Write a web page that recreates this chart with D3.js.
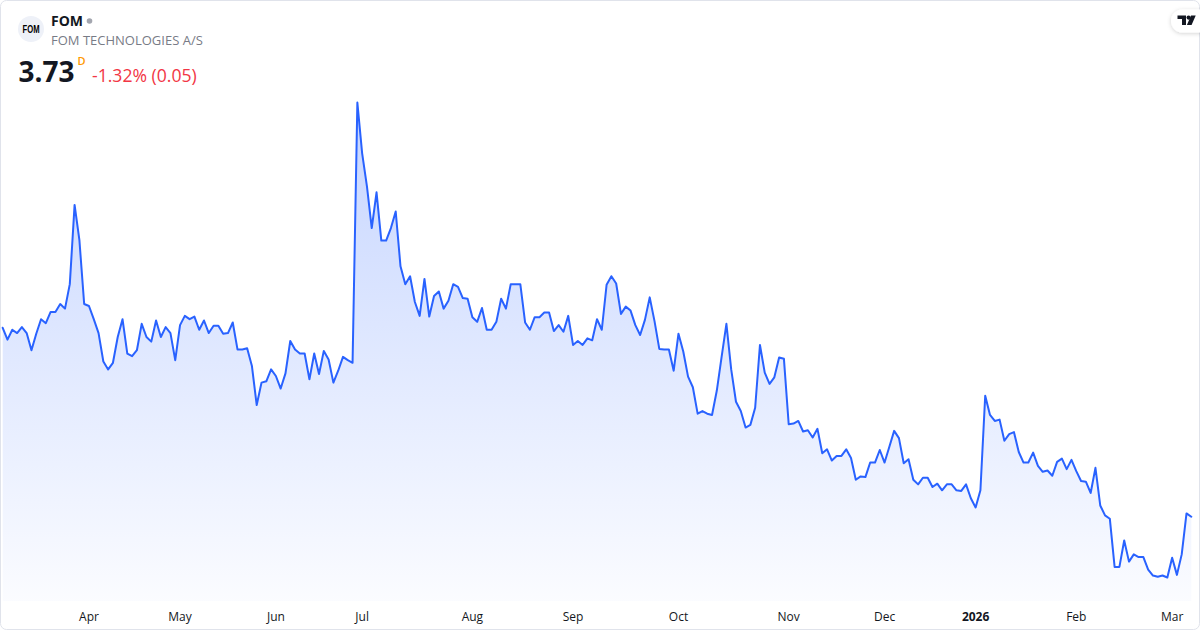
<!DOCTYPE html>
<html>
<head>
<meta charset="utf-8">
<script src="https://cdn.jsdelivr.net/npm/d3@7"></script>
<style>
  html, body { margin: 0; padding: 0; background: #ffffff; }
  svg { display: block; }
  text { font-family: "Open Sans", "Noto Sans", sans-serif; }
</style>
</head>
<body>
<div id="chart"></div>
<script>
// ---- Data (daily closes, DKK) ----
const symbol = "FOM";
const companyName = "FOM TECHNOLOGIES A/S";
const lastPrice = "3.73";
const intervalMark = "D";
const changeText = "-1.32% (0.05)";

const closes = [
  6.59, 6.41, 6.56, 6.51, 6.60, 6.51, 6.25, 6.50, 6.72, 6.66,
  6.83, 6.83, 6.95, 6.88, 7.25, 8.45, 7.92, 6.95, 6.92, 6.72,
  6.51, 6.08, 5.96, 6.06, 6.45, 6.72, 6.20, 6.16, 6.25, 6.65,
  6.45, 6.38, 6.70, 6.45, 6.60, 6.51, 6.10, 6.63, 6.77, 6.72,
  6.76, 6.56, 6.70, 6.51, 6.62, 6.62, 6.50, 6.51, 6.67, 6.26,
  6.26, 6.28, 6.01, 5.42, 5.76, 5.78, 5.96, 5.86, 5.67, 5.90,
  6.39, 6.26, 6.20, 6.20, 5.81, 6.20, 5.89, 6.24, 6.11, 5.76,
  5.94, 6.15, 6.10, 6.06, 10.00, 9.23, 8.73, 8.10, 8.64, 7.91,
  7.91, 8.10, 8.35, 7.52, 7.25, 7.37, 6.98, 6.77, 7.33, 6.76,
  7.07, 7.14, 6.88, 7.00, 7.25, 7.21, 7.04, 7.03, 6.75, 6.68,
  6.89, 6.56, 6.56, 6.68, 7.03, 6.88, 7.25, 7.25, 7.25, 6.67,
  6.56, 6.75, 6.75, 6.82, 6.82, 6.54, 6.63, 6.53, 6.77, 6.33,
  6.39, 6.33, 6.43, 6.40, 6.72, 6.56, 7.24, 7.37, 7.26, 6.80,
  6.91, 6.85, 6.63, 6.48, 6.71, 7.05, 6.69, 6.27, 6.26, 6.26,
  5.94, 6.50, 6.23, 5.85, 5.69, 5.29, 5.33, 5.29, 5.27, 5.64,
  6.15, 6.65, 5.96, 5.47, 5.33, 5.08, 5.12, 5.38, 6.33, 5.91,
  5.74, 5.84, 6.14, 6.12, 5.13, 5.14, 5.18, 5.02, 5.04, 4.93,
  5.06, 4.69, 4.75, 4.58, 4.65, 4.65, 4.75, 4.62, 4.29, 4.34,
  4.33, 4.55, 4.55, 4.74, 4.55, 4.79, 5.03, 4.92, 4.54, 4.60,
  4.29, 4.22, 4.32, 4.32, 4.18, 4.23, 4.13, 4.22, 4.22, 4.13,
  4.12, 4.22, 4.01, 3.87, 4.13, 5.56, 5.27, 5.18, 5.20, 4.88,
  4.98, 5.01, 4.71, 4.55, 4.55, 4.70, 4.50, 4.41, 4.43, 4.35,
  4.56, 4.61, 4.45, 4.59, 4.42, 4.27, 4.26, 4.09, 4.47, 3.90,
  3.75, 3.70, 2.97, 2.97, 3.37, 3.05, 3.16, 3.12, 3.12, 2.93,
  2.84, 2.82, 2.84, 2.81, 3.11, 2.85, 3.16, 3.78, 3.73
];

// month tick labels and the trading-day index where each month starts
const tickLabels = ["Apr", "May", "Jun", "Jul", "Aug", "Sep", "Oct", "Nov", "Dec", "2026", "Feb", "Mar"];
const tickIndex  = [18, 37, 57, 75, 98, 119, 141, 164, 184, 203, 224, 244];
const boldTicks  = ["2026"];

// ---- Drawing ----
const W = 1200, H = 630;
const svg = d3.select("#chart").append("svg")
  .attr("width", W).attr("height", H);

const defs = svg.append("defs");
const grad = defs.append("linearGradient")
  .attr("id", "areaGrad").attr("gradientUnits", "userSpaceOnUse")
  .attr("x1", 0).attr("x2", 0).attr("y1", 102).attr("y2", 602);
grad.append("stop").attr("offset", "0%").attr("stop-color", "#2962ff").attr("stop-opacity", 0.27);
grad.append("stop").attr("offset", "100%").attr("stop-color", "#2962ff").attr("stop-opacity", 0.02);

const shadow = defs.append("filter").attr("id", "pillShadow")
  .attr("x", "-50%").attr("y", "-50%").attr("width", "200%").attr("height", "200%");
shadow.append("feDropShadow").attr("dx", 0).attr("dy", 1).attr("stdDeviation", 2)
  .attr("flood-color", "#000").attr("flood-opacity", 0.18);

// card background & border
svg.append("rect").attr("x", 0.5).attr("y", 0.5).attr("width", W - 1).attr("height", H - 1)
  .attr("rx", 6).attr("fill", "#ffffff").attr("stroke", "#e0e3eb");

const x = d3.scaleLinear().domain([0, closes.length - 1]).range([2.7, 1191.3]);
const y = d3.scaleLinear().domain([d3.min(closes), d3.max(closes)]).range([577.5, 102.5]);
const baseY = 601;

const area = d3.area()
  .x((d, i) => x(i)).y0(baseY).y1(d => y(d));
const line = d3.line()
  .x((d, i) => x(i)).y(d => y(d));

svg.append("path").datum(closes)
  .attr("d", area).attr("fill", "url(#areaGrad)");
svg.append("path").datum(closes)
  .attr("d", line).attr("fill", "none")
  .attr("stroke", "#2962ff").attr("stroke-width", 2)
  .attr("stroke-linejoin", "round").attr("stroke-linecap", "round");

// x axis labels
const axisG = svg.append("g");
axisG.selectAll("text").data(tickLabels).join("text")
  .attr("x", (d, i) => x(tickIndex[i]))
  .attr("y", 621)
  .attr("text-anchor", "middle")
  .attr("font-size", 12)
  .attr("font-weight", d => boldTicks.includes(d) ? 700 : 400)
  .attr("fill", "#131722")
  .text(d => d);

// header
const hdr = svg.append("g");
hdr.append("circle").attr("cx", 31).attr("cy", 29).attr("r", 13).attr("fill", "#eef1f8");
hdr.append("text").attr("x", 31).attr("y", 32.5).attr("text-anchor", "middle")
  .attr("font-size", 10).attr("font-weight", 700).attr("fill", "#000")
  .attr("textLength", 17).attr("lengthAdjust", "spacingAndGlyphs")
  .style("font-family", "'Liberation Sans Narrow', 'Liberation Sans', sans-serif")
  .text(symbol);
hdr.append("text").attr("x", 51).attr("y", 26).attr("font-size", 14).attr("font-weight", 700)
  .attr("fill", "#131722").text(symbol);
hdr.append("circle").attr("cx", 89.5).attr("cy", 21).attr("r", 2.8).attr("fill", "#a3a6af");
hdr.append("text").attr("x", 51).attr("y", 45).attr("font-size", 13)
  .attr("fill", "#787b86").text(companyName);
hdr.append("text").attr("x", 18.5).attr("y", 81.5).attr("font-size", 28).attr("font-weight", 700)
  .attr("fill", "#131722").text(lastPrice);
hdr.append("text").attr("x", 77.5).attr("y", 65).attr("font-size", 11).attr("font-weight", 600)
  .attr("fill", "#ff9800").text(intervalMark);
hdr.append("text").attr("x", 92).attr("y", 81.5).attr("font-size", 17.6)
  .attr("fill", "#f23645").text(changeText);

// TradingView pill logo
const pill = svg.append("g");
pill.append("rect").attr("x", 1171).attr("y", 9.5).attr("width", 40).attr("height", 23)
  .attr("rx", 11.5).attr("fill", "#ffffff").attr("filter", "url(#pillShadow)");
pill.append("path")
  .attr("d", "M1177.5,15.5 H1186 V25 H1182 V19 H1177.5 Z")
  .attr("fill", "#131722");
pill.append("circle").attr("cx", 1188.6).attr("cy", 17.6).attr("r", 2.1).attr("fill", "#131722");
pill.append("path")
  .attr("d", "M1191,15.5 H1195.7 L1191.6,25 H1186.9 Z")
  .attr("fill", "#131722");
</script>
</body>
</html>
